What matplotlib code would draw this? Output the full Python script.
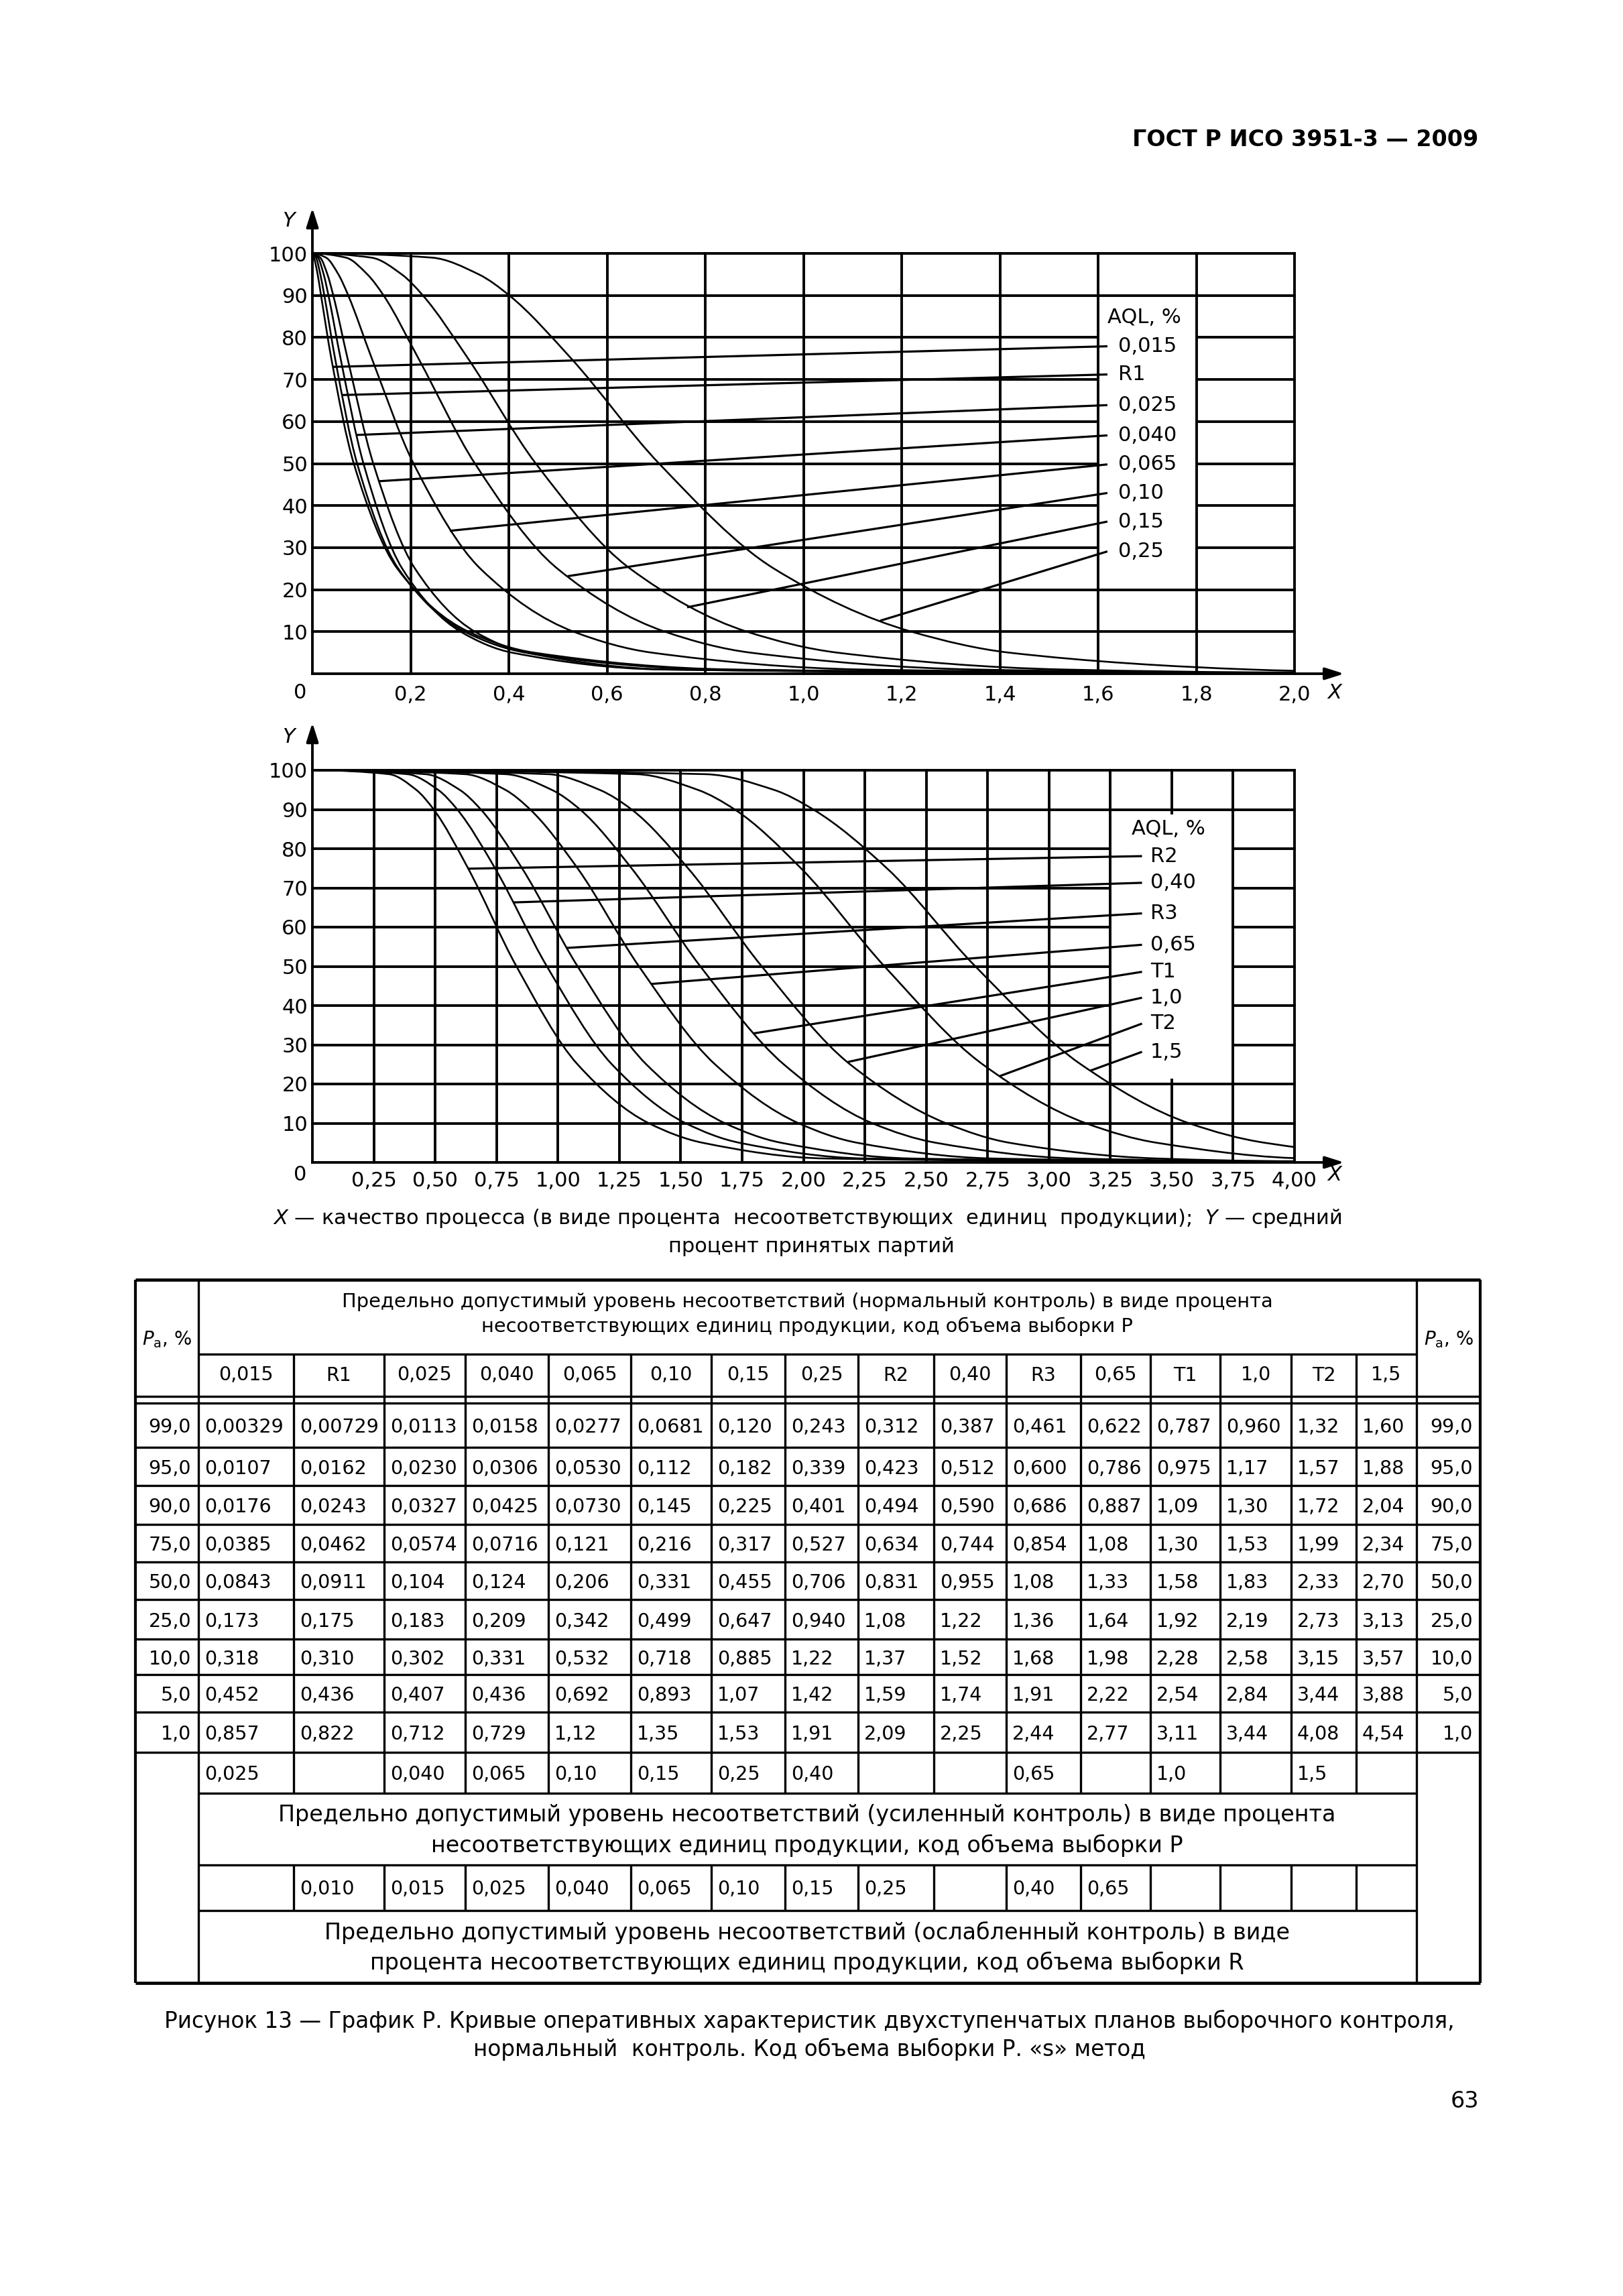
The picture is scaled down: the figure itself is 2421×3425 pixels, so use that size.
import numpy as np
import matplotlib
matplotlib.use("Agg")
import matplotlib.pyplot as plt
from matplotlib.patches import Rectangle, PathPatch
from matplotlib.path import Path

plt.rcParams['font.family'] = ['DejaVu Sans']
plt.rcParams['mathtext.fontset'] = 'dejavusans'

# ------------------------------------------------------------------ data
pa_levels = [99.0, 95.0, 90.0, 75.0, 50.0, 25.0, 10.0, 5.0, 1.0]
pa_row_labels = ["99,0", "95,0", "90,0", "75,0", "50,0", "25,0", "10,0", "5,0", "1,0"]
aql_labels = ["0,015", "R1", "0,025", "0,040", "0,065", "0,10", "0,15", "0,25",
              "R2", "0,40", "R3", "0,65", "T1", "1,0", "T2", "1,5"]

x_0015 = [0.00329, 0.0107, 0.0176, 0.0385, 0.0843, 0.173, 0.318, 0.452, 0.857]
x_R1 = [0.00729, 0.0162, 0.0243, 0.0462, 0.0911, 0.175, 0.310, 0.436, 0.822]
x_0025 = [0.0113, 0.0230, 0.0327, 0.0574, 0.104, 0.183, 0.302, 0.407, 0.712]
x_0040 = [0.0158, 0.0306, 0.0425, 0.0716, 0.124, 0.209, 0.331, 0.436, 0.729]
x_0065 = [0.0277, 0.0530, 0.0730, 0.121, 0.206, 0.342, 0.532, 0.692, 1.12]
x_010 = [0.0681, 0.112, 0.145, 0.216, 0.331, 0.499, 0.718, 0.893, 1.35]
x_015 = [0.120, 0.182, 0.225, 0.317, 0.455, 0.647, 0.885, 1.07, 1.53]
x_025 = [0.243, 0.339, 0.401, 0.527, 0.706, 0.940, 1.22, 1.42, 1.91]
x_R2 = [0.312, 0.423, 0.494, 0.634, 0.831, 1.08, 1.37, 1.59, 2.09]
x_040 = [0.387, 0.512, 0.590, 0.744, 0.955, 1.22, 1.52, 1.74, 2.25]
x_R3 = [0.461, 0.600, 0.686, 0.854, 1.08, 1.36, 1.68, 1.91, 2.44]
x_065 = [0.622, 0.786, 0.887, 1.08, 1.33, 1.64, 1.98, 2.22, 2.77]
x_T1 = [0.787, 0.975, 1.09, 1.30, 1.58, 1.92, 2.28, 2.54, 3.11]
x_10 = [0.960, 1.17, 1.30, 1.53, 1.83, 2.19, 2.58, 2.84, 3.44]
x_T2 = [1.32, 1.57, 1.72, 1.99, 2.33, 2.73, 3.15, 3.44, 4.08]
x_15 = [1.60, 1.88, 2.04, 2.34, 2.70, 3.13, 3.57, 3.88, 4.54]

series = [x_0015, x_R1, x_0025, x_0040, x_0065, x_010, x_015, x_025,
          x_R2, x_040, x_R3, x_065, x_T1, x_10, x_T2, x_15]

# acceptance (%) read at the right edge of each chart
tail_top = [0.1, 0.1, 0.1, 0.1, 0.15, 0.2, 0.3, 0.7]
tail_bottom = [0.1, 0.15, 0.2, 0.25, 0.3, 0.3, None, None]
# acceptance (%) where each leader line touches its curve
leader_pa_top = [73.0, 66.3, 56.8, 45.8, 34.0, 23.2, 15.8, 12.6]
leader_pa_bottom = [74.9, 66.3, 54.7, 45.5, 32.9, 25.6, 22.0, 23.4]

xt_top_labels = ["0,2", "0,4", "0,6", "0,8", "1,0", "1,2", "1,4", "1,6", "1,8", "2,0"]
xt_bottom_labels = ["0,25", "0,50", "0,75", "1,00", "1,25", "1,50", "1,75", "2,00",
                    "2,25", "2,50", "2,75", "3,00", "3,25", "3,50", "3,75", "4,00"]
yt_labels = ["10", "20", "30", "40", "50", "60", "70", "80", "90", "100"]

tight_row = ["0,025", "", "0,040", "0,065", "0,10", "0,15", "0,25", "0,40",
             "", "", "0,65", "", "1,0", "", "1,5", ""]
reduced_row = ["", "0,010", "0,015", "0,025", "0,040", "0,065", "0,10", "0,15",
               "0,25", "", "0,40", "0,65", "", "", "", ""]

# ------------------------------------------------------------------ figure
W, H = 2421, 3425
fig = plt.figure(figsize=(W / 100, H / 100), dpi=100)
fig.patch.set_facecolor('white')

GRID_LW = 2.8
CURVE_LW = 1.9
LEADER_LW = 2.3
TICK_FS = 22


def fmt(v):
    return f"{v:#.3g}".replace('.', ',')


def curve_xy(vals, tail, xmax):
    xs = [0.0] + list(vals)
    ys = [100.0] + list(pa_levels)
    if tail is not None:
        xs.append(xmax)
        ys.append(tail)
    return np.array(xs), np.array(ys)


def pchip_slopes(x, y):
    h = np.diff(x)
    delta = np.diff(y) / h
    n = len(x)
    d = np.zeros(n)
    for k in range(1, n - 1):
        if delta[k - 1] * delta[k] <= 0:
            d[k] = 0.0
        else:
            w1 = 2 * h[k] + h[k - 1]
            w2 = h[k] + 2 * h[k - 1]
            d[k] = (w1 + w2) / (w1 / delta[k - 1] + w2 / delta[k])

    def end(h0, h1, d0, d1):
        dd = ((2 * h0 + h1) * d0 - h0 * d1) / (h0 + h1)
        if np.sign(dd) != np.sign(d0):
            dd = 0.0
        elif np.sign(d0) != np.sign(d1) and abs(dd) > abs(3 * d0):
            dd = 3 * d0
        return dd
    d[0] = end(h[0], h[1], delta[0], delta[1])
    d[-1] = end(h[-1], h[-2], delta[-1], delta[-2])
    return d


def smooth_path(xs, ys):
    """Cubic Bezier path through the data points (monotone tangents)."""
    d = pchip_slopes(xs, ys)
    verts = [(xs[0], ys[0])]
    codes = [Path.MOVETO]
    for k in range(len(xs) - 1):
        h = xs[k + 1] - xs[k]
        verts += [(xs[k] + h / 3, ys[k] + d[k] * h / 3),
                  (xs[k + 1] - h / 3, ys[k + 1] - d[k + 1] * h / 3),
                  (xs[k + 1], ys[k + 1])]
        codes += [Path.CURVE4] * 3
    return Path(verts, codes)


def x_on_path(path, target):
    pts = path.to_polygons(closed_only=False)[0]
    px, py = pts[:, 0], pts[:, 1]
    return np.interp(target, py[::-1], px[::-1])


def draw_chart(rect, names, data, tails, xmax, xstep, xlabels, leader_pa,
               label_x, leader_end_x, label_y, aql_xy, box, hidden_vx,
               xpad, zero_y, y_arrow, y_label_y):
    ax = fig.add_axes(rect)
    ax.set_xlim(0, xmax)
    ax.set_ylim(0, 100)
    for s in ax.spines.values():
        s.set_visible(False)
    ax.patch.set_alpha(0)
    xgrid = np.round(np.arange(0, xmax + xstep / 2, xstep), 4)
    for v in range(0, 101, 10):
        ax.axhline(v, color='k', lw=GRID_LW, zorder=1, clip_on=False)
    for v in xgrid:
        z = 1.0 if any(abs(v - h) < 1e-6 for h in hidden_vx) else 1.6
        ax.axvline(v, color='k', lw=GRID_LW, zorder=z, clip_on=False)
    ax.add_patch(Rectangle((box[0], box[1]), box[2], box[3],
                           facecolor='white', edgecolor='none', zorder=1.5))
    ax.set_xticks(xgrid[1:])
    ax.set_xticklabels(xlabels)
    ax.set_yticks(range(10, 101, 10))
    ax.set_yticklabels(yt_labels)
    ax.tick_params(axis='x', length=0, labelsize=TICK_FS, pad=xpad)
    ax.tick_params(axis='y', length=0, labelsize=TICK_FS, pad=5)
    ax.text(-0.0123, zero_y, "0", transform=ax.transAxes, ha='center',
            va='center', fontsize=TICK_FS)

    for i, vals in enumerate(data):
        xs, ys = curve_xy(vals, tails[i], xmax)
        path = smooth_path(xs, ys)
        ax.add_patch(PathPatch(path, facecolor='none', edgecolor='k',
                               lw=CURVE_LW, zorder=3, joinstyle='round'))
        xl = x_on_path(path, leader_pa[i])
        ax.plot([xl, leader_end_x], [leader_pa[i], label_y[i]], color='k',
                lw=LEADER_LW, zorder=4, solid_capstyle='butt')
        ax.text(label_x, label_y[i], names[i], ha='left', va='center',
                fontsize=TICK_FS, zorder=5)
    ax.text(aql_xy[0], aql_xy[1], "AQL, %", ha='left', va='center',
            fontsize=TICK_FS, zorder=5)

    # axis arrows
    ap = dict(arrowstyle='-|>,head_length=0.85,head_width=0.27',
              color='k', lw=GRID_LW, shrinkA=0, shrinkB=0, mutation_scale=20)
    ax.annotate('', xy=(0, y_arrow), xycoords='axes fraction',
                xytext=(0, 1.0), textcoords='axes fraction',
                arrowprops=ap, annotation_clip=False)
    ax.annotate('', xy=(1.0505, 0), xycoords='axes fraction',
                xytext=(1.0, 0), textcoords='axes fraction',
                arrowprops=ap, annotation_clip=False)
    ax.text(-0.024, y_label_y, "Y", transform=ax.transAxes, ha='center',
            va='center', fontsize=TICK_FS, style='italic')
    ax.text(1.041, zero_y, "X", transform=ax.transAxes, ha='center',
            va='center', fontsize=TICK_FS, style='italic')
    return ax


L = 466 / W
AW = 1465 / W
top_rect = [L, 1 - 1005 / H, AW, 627 / H]
bot_rect = [L, 1 - 1734 / H, AW, 585 / H]

draw_chart(top_rect, aql_labels[:8], series[:8], tail_top, 2.0, 0.2, xt_top_labels,
           leader_pa_top, 1.641, 1.619,
           [77.9, 71.2, 63.9, 56.7, 49.8, 43.0, 36.2, 29.1], (1.619, 84.8),
           (1.6, 21.3, 0.2, 67.4), [], 12, -0.0447, 1.108, 1.078)

draw_chart(bot_rect, aql_labels[8:], series[8:], tail_bottom, 4.0, 0.25, xt_bottom_labels,
           leader_pa_bottom, 3.413, 3.379,
           [78.1, 71.3, 63.5, 55.5, 48.6, 42.0, 35.4, 28.2], (3.336, 85.1),
           (3.25, 21.3, 0.5, 67.4), [3.5], 9.5, -0.031, 1.121, 1.085)

# ------------------------------------------------------------------ page overlay (pixel coords)
pg = fig.add_axes([0, 0, 1, 1])
pg.set_xlim(0, W)
pg.set_ylim(H, 0)
pg.axis('off')
pg.patch.set_alpha(0)

pg.text(2205, 208, "ГОСТ Р ИСО 3951-3 — 2009", ha='right', va='center',
        fontsize=24, fontweight='bold')

CAP_FS = 22
pg.text(1204, 1817, "$X$ — качество процесса (в виде процента  несоответствующих  "
        "единиц  продукции);  $Y$ — средний", ha='center', va='center', fontsize=CAP_FS)
pg.text(1210, 1859, "процент принятых партий", ha='center', va='center', fontsize=CAP_FS)

# table geometry
col_edges = [202, 296, 438, 573, 694, 818, 941, 1061, 1171, 1280, 1393, 1501,
             1612, 1716, 1820, 1926, 2023, 2113, 2208]
row_edges = [2093, 2159, 2216, 2274, 2330, 2386, 2445, 2498, 2554, 2614]
T_TOP, T_SEP, T_D1, T_D2 = 1909, 2020, 2083, 2093
T_R1, T_R2, T_R3, T_BOT = 2675, 2782, 2850, 2958
XL, XR = col_edges[0], col_edges[-1]
XIL, XIR = col_edges[1], col_edges[-2]
TLW = 2.4

pg.hlines([T_TOP, T_BOT], XL, XR, color='k', lw=3.4)
pg.vlines([XL, XR], T_TOP, T_BOT, color='k', lw=3.0)
pg.vlines([XIL, XIR], T_TOP, T_BOT, color='k', lw=TLW)
pg.hlines([T_SEP], XIL, XIR, color='k', lw=TLW)
pg.hlines([T_D1, T_D2], XL, XR, color='k', lw=TLW)
pg.hlines(row_edges[1:], XL, XR, color='k', lw=TLW)
pg.hlines([T_R1, T_R2, T_R3], XIL, XIR, color='k', lw=TLW)
pg.vlines(col_edges[2:-2], T_SEP, T_R1, color='k', lw=TLW)
pg.vlines(col_edges[2:-2], T_R2, T_R3, color='k', lw=TLW)

HDR_FS = 20.8
pg.text(1204, 1942, "Предельно допустимый уровень несоответствий (нормальный контроль) в виде процента",
        ha='center', va='center', fontsize=HDR_FS)
pg.text(1204, 1979, "несоответствующих единиц продукции, код объема выборки Р",
        ha='center', va='center', fontsize=HDR_FS)
for xc in [(col_edges[0] + col_edges[1]) / 2, (col_edges[-2] + col_edges[-1]) / 2]:
    pg.text(xc, 1998, r"$P_\mathrm{a}$, %", ha='center', va='center', fontsize=20)

NUM_FS = 20.5
ycl = (T_SEP + T_D1) / 2
for j, name in enumerate(aql_labels):
    xc = (col_edges[j + 1] + col_edges[j + 2]) / 2
    pg.text(xc, ycl, name, ha='center', va='center', fontsize=NUM_FS)

for i, lab in enumerate(pa_row_labels):
    yc = (row_edges[i] + row_edges[i + 1]) / 2 + 3
    pg.text(col_edges[1] - 11, yc, lab, ha='right', va='center', fontsize=NUM_FS)
    pg.text(col_edges[-1] - 11, yc, lab, ha='right', va='center', fontsize=NUM_FS)
    for j, vals in enumerate(series):
        pg.text(col_edges[j + 1] + 9, yc, fmt(vals[i]), ha='left', va='center',
                fontsize=NUM_FS)

for j in range(16):
    if tight_row[j]:
        pg.text(col_edges[j + 1] + 9, (row_edges[-1] + T_R1) / 2 + 2, tight_row[j],
                ha='left', va='center', fontsize=NUM_FS)
    if reduced_row[j]:
        pg.text(col_edges[j + 1] + 9, (T_R2 + T_R3) / 2 + 2, reduced_row[j],
                ha='left', va='center', fontsize=NUM_FS)

LOW_FS = 24
pg.text(1204, 2708, "Предельно допустимый уровень несоответствий (усиленный контроль) в виде процента",
        ha='center', va='center', fontsize=LOW_FS)
pg.text(1204, 2753, "несоответствующих единиц продукции, код объема выборки Р",
        ha='center', va='center', fontsize=LOW_FS)
pg.text(1204, 2883, "Предельно допустимый уровень несоответствий (ослабленный контроль) в виде",
        ha='center', va='center', fontsize=LOW_FS)
pg.text(1204, 2928, "процента несоответствующих единиц продукции, код объема выборки R",
        ha='center', va='center', fontsize=LOW_FS)

FIG_FS = 23.5
pg.text(1207, 3015, "Рисунок 13 — График Р. Кривые оперативных характеристик двухступенчатых "
        "планов выборочного контроля,", ha='center', va='center', fontsize=FIG_FS)
pg.text(1207, 3057, "нормальный  контроль. Код объема выборки Р. «s» метод",
        ha='center', va='center', fontsize=FIG_FS)
pg.text(2185, 3135, "63", ha='center', va='center', fontsize=24)

fig.savefig("out.png", dpi=100, facecolor='white')
